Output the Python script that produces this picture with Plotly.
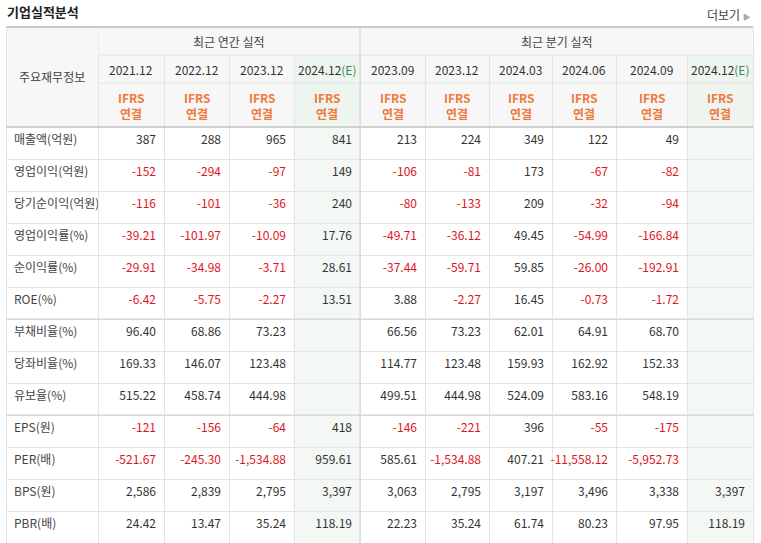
import plotly.graph_objects as go

W, H = 761, 543
row_labels = ["매출액(억원)", "영업이익(억원)", "당기순이익(억원)", "영업이익률(%)", "순이익률(%)", "ROE(%)",
              "부채비율(%)", "당좌비율(%)", "유보율(%)", "EPS(원)", "PER(배)", "BPS(원)", "PBR(배)"]
periods = ["2021.12", "2022.12", "2023.12", "2024.12", "2023.09", "2023.12", "2024.03", "2024.06", "2024.09", "2024.12"]
estimate = [False, False, False, True, False, False, False, False, False, True]
groups = ["최근 연간 실적", "최근 분기 실적"]

c_2021 = ["387", "-152", "-116", "-39.21", "-29.91", "-6.42", "96.40", "169.33", "515.22", "-121", "-521.67", "2,586", "24.42"]
c_2022 = ["288", "-294", "-101", "-101.97", "-34.98", "-5.75", "68.86", "146.07", "458.74", "-156", "-245.30", "2,839", "13.47"]
c_2023 = ["965", "-97", "-36", "-10.09", "-3.71", "-2.27", "73.23", "123.48", "444.98", "-64", "-1,534.88", "2,795", "35.24"]
c_2024e = ["841", "149", "240", "17.76", "28.61", "13.51", "", "", "", "418", "959.61", "3,397", "118.19"]
q_2309 = ["213", "-106", "-80", "-49.71", "-37.44", "3.88", "66.56", "114.77", "499.51", "-146", "585.61", "3,063", "22.23"]
q_2312 = ["224", "-81", "-133", "-36.12", "-59.71", "-2.27", "73.23", "123.48", "444.98", "-221", "-1,534.88", "2,795", "35.24"]
q_2403 = ["349", "173", "209", "49.45", "59.85", "16.45", "62.01", "159.93", "524.09", "396", "407.21", "3,197", "61.74"]
q_2406 = ["122", "-67", "-32", "-54.99", "-26.00", "-0.73", "64.91", "162.92", "583.16", "-55", "-11,558.12", "3,496", "80.23"]
q_2409 = ["49", "-82", "-94", "-166.84", "-192.91", "-1.72", "68.70", "152.33", "548.19", "-175", "-5,952.73", "3,338", "97.95"]
q_2412e = ["", "", "", "", "", "", "", "", "", "", "", "3,397", "118.19"]

cols = [c_2021, c_2022, c_2023, c_2024e, q_2309, q_2312, q_2403, q_2406, q_2409, q_2412e]
edges = [6, 98, 164, 229, 294, 360, 425, 489, 552, 616, 687, 753]
widths = [edges[i + 1] - edges[i] for i in range(len(edges) - 1)]

def px(x):
    return x / W

def py(y):
    return 1 - y / H

values = [row_labels] + cols
font_colors = [["#444"] * len(row_labels)] + [["#e0141e" if v.startswith("-") else "#333" for v in c] for c in cols]
green_body = "#f3f8f4"
fills = ["white"] + [green_body if e else "white" for e in estimate]
hdr_fills = ["#f7f7f7"] + ["#eef5ef" if e else "#f7f7f7" for e in estimate]

fig = go.Figure(go.Table(
    domain=dict(x=[px(6), px(753)], y=[0, py(27)]),
    columnwidth=widths,
    header=dict(values=[""] * 11, height=100, fill_color=hdr_fills,
                line=dict(color="#e4e4e4", width=1)),
    cells=dict(values=values, height=32, fill_color=fills,
               align=["left"] + ["right"] * 10,
               font=dict(family="Noto Sans CJK KR", size=12, color=font_colors),
               line=dict(color="#e4e4e4", width=1)),
))

shapes = []
ann = []
shapes.append(dict(type="rect", xref="paper", yref="paper", x0=px(98.5), x1=px(753), y0=py(55), y1=py(27.5),
                   fillcolor="#f7f7f7", line=dict(width=0), layer="above"))
for y in (55, 83):
    shapes.append(dict(type="line", xref="paper", yref="paper", x0=px(98), x1=px(753), y0=py(y), y1=py(y),
                       line=dict(color="#e4e4e4", width=1), layer="above"))
shapes.append(dict(type="line", xref="paper", yref="paper", x0=px(360), x1=px(360), y0=0, y1=py(27),
                   line=dict(color="#d4d4d4", width=1), layer="above"))
for y, c in ((27, "#bdbdbd"), (127, "#c8c8c8"), (319, "#d0d0d0"), (415, "#d0d0d0")):
    shapes.append(dict(type="line", xref="paper", yref="paper", x0=px(6), x1=px(753), y0=py(y), y1=py(y),
                       line=dict(color=c, width=1.5 if y in (27, 127) else 1), layer="above"))

def add(text, x, y, size=12, color="#333", xanchor="center"):
    ann.append(dict(text=text, x=px(x), y=py(y), xref="paper", yref="paper", showarrow=False,
                    xanchor=xanchor, yanchor="middle", font=dict(family="Noto Sans CJK KR", size=size, color=color)))

add("<b>기업실적분석</b>", 5, 12, size=13, color="#222", xanchor="left")
add("더보기 <span style='color:#aaa;font-size:8px'>▶</span>", 753, 14, size=12, color="#444", xanchor="right")
add("주요재무정보", 52, 77, color="#444")
add("최근 연간 실적", (98 + 360) / 2, 41, color="#444")
add("최근 분기 실적", (360 + 753) / 2, 41, color="#444")
for i, p in enumerate(periods):
    cx = (edges[i + 1] + edges[i + 2]) / 2
    label = p + ("<span style='color:#3a8a4a'>(E)</span>" if estimate[i] else "")
    add(label, cx, 69, color="#333")
    add("<b>IFRS</b>", cx, 98, color="#ef7a3b")
    add("<b>연결</b>", cx, 113, color="#ef7a3b")

fig.update_layout(width=W, height=H, margin=dict(l=0, r=0, t=0, b=0), paper_bgcolor="white",
                  shapes=shapes, annotations=ann)
fig.write_html("out.html", config={"displayModeBar": False},
               post_script="document.body.style.margin='0';document.body.style.overflow='hidden';")
